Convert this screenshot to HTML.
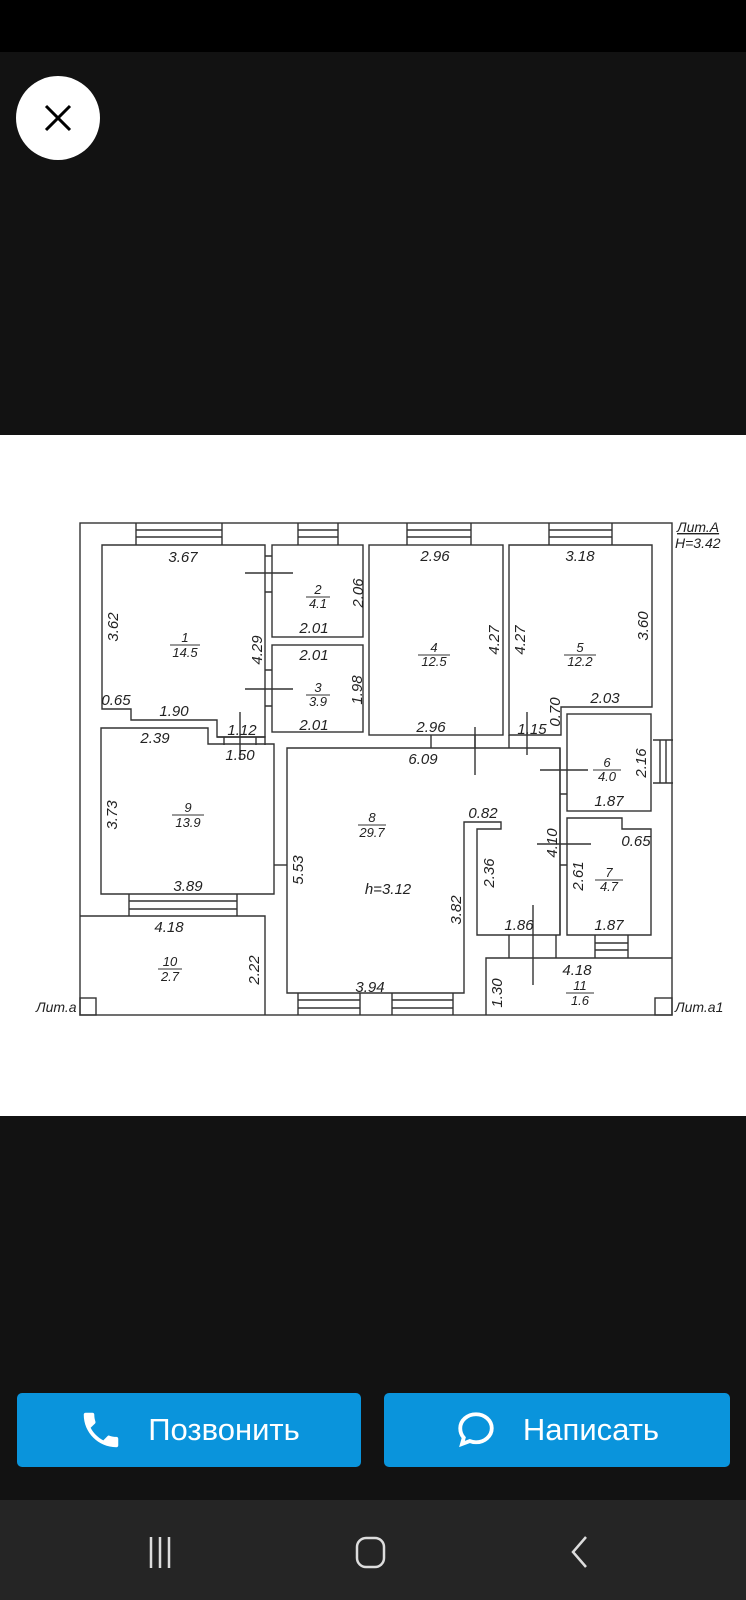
<!DOCTYPE html>
<html><head><meta charset="utf-8"><style>
html,body{margin:0;padding:0;background:#121212;width:746px;height:1600px;overflow:hidden;font-family:"Liberation Sans",sans-serif}
.btn{position:absolute;top:1393px;height:74px;background:#0a94dc;border-radius:5px;color:#fff;font-size:31px;display:flex;align-items:center;justify-content:center}
</style></head><body>
<div style="position:absolute;left:0;top:0;width:746px;height:52px;background:#000"></div>
<div style="position:absolute;left:16px;top:76px;width:84px;height:84px;border-radius:50%;background:#fff"></div>
<svg style="position:absolute;left:0;top:0" width="746" height="200"><path d="M46 106L70 130M70 106L46 130" stroke="#000" stroke-width="3"/></svg>
<div style="position:absolute;left:0;top:435px;width:746px;height:681px;background:#fff"></div>
<svg style="position:absolute;left:0;top:0" width="746" height="1120" font-family="Liberation Sans,sans-serif" font-style="italic" font-size="15" fill="#222">
<g fill="none" stroke="#333" stroke-width="1.4">
<rect x="80" y="523" width="592" height="492"/>
<path d="M102 545H265V737H217V720H131V709H102Z"/>
<rect x="272" y="545" width="91" height="92"/>
<rect x="272" y="645" width="91" height="87"/>
<rect x="369" y="545" width="134" height="190"/>
<path d="M509 545H652V707H561V735H509Z"/>
<rect x="567" y="714" width="84" height="97"/>
<path d="M567 818H622V829H651V935H567Z"/>
<path d="M101 728H208V744H274V894H101Z"/>
<path d="M287 748H560V935H477V829H501V822H464V993H287Z"/>
<path d="M80 916H265V1015"/>
<path d="M486 1015V958H672"/>
<path d="M274 865H287"/>
<path d="M136 523V545M222 523V545M136 530H222M136 537H222"/>
<path d="M298 523V545M338 523V545M298 530H338M298 537H338"/>
<path d="M407 523V545M471 523V545M407 530H471M407 537H471"/>
<path d="M549 523V545M612 523V545M549 530H612M549 537H612"/>
<path d="M129 894V916M237 894V916M129 901H237M129 909H237"/>
<path d="M298 993V1015M360 993V1015M298 1000H360M298 1008H360"/>
<path d="M392 993V1015M453 993V1015M392 1000H453M392 1008H453"/>
<path d="M595 935V958M628 935V958M595 943H628M595 950H628"/>
<path d="M509 935V958M556 935V958"/>
<path d="M653 740H673M653 783H673M660 740V783M666 740V783"/>
<rect x="80" y="998" width="16" height="17"/>
<rect x="655" y="998" width="17" height="17"/>
<path d="M245 573H293M245 689H293M265 556H272M265 592H272M265 670H272M265 706H272"/>
<path d="M540 770H588M537 844H591M533 905V985M475 727V775M240 712V760M527 712V755"/>
<path d="M217 737H265V745M224 737V745M256 737V745M431 735V748M475 735V748M509 735V748M560 748V935M567 794H560M567 865H560"/>
</g>
<g stroke="#333" stroke-width="1">
<path d="M306 597H330M306 695H330M170 645H200M418 655H450M564 655H596M172 815H204M158 969H182M593 770H621M595 880H623M566 993H594M358 825H386"/>
</g>
<g text-anchor="middle">
<text x="183" y="562">3.67</text><text x="318" y="594" font-size="13">2</text><text x="318" y="608" font-size="13">4.1</text>
<text x="314" y="633">2.01</text><text x="314" y="660">2.01</text>
<text x="318" y="692" font-size="13">3</text><text x="318" y="706" font-size="13">3.9</text><text x="314" y="730">2.01</text>
<text x="185" y="642" font-size="13">1</text><text x="185" y="657" font-size="13">14.5</text>
<text x="116" y="705">0.65</text><text x="174" y="716">1.90</text><text x="242" y="735">1.12</text><text x="155" y="743">2.39</text>
<text x="435" y="561">2.96</text><text x="434" y="652" font-size="13">4</text><text x="434" y="666" font-size="13">12.5</text>
<text x="580" y="561">3.18</text><text x="580" y="652" font-size="13">5</text><text x="580" y="666" font-size="13">12.2</text>
<text x="605" y="703">2.03</text><text x="532" y="734">1.15</text><text x="431" y="732">2.96</text>
<text x="240" y="760">1.50</text><text x="188" y="812" font-size="13">9</text><text x="188" y="827" font-size="13">13.9</text>
<text x="188" y="891">3.89</text><text x="169" y="932">4.18</text><text x="170" y="966" font-size="13">10</text><text x="170" y="981" font-size="13">2.7</text>
<text x="388" y="894">h=3.12</text><text x="423" y="764">6.09</text>
<text x="607" y="767" font-size="13">6</text><text x="607" y="781" font-size="13">4.0</text><text x="609" y="806">1.87</text>
<text x="372" y="822" font-size="13">8</text><text x="372" y="837" font-size="13">29.7</text>
<text x="483" y="818">0.82</text><text x="636" y="846">0.65</text>
<text x="609" y="877" font-size="13">7</text><text x="609" y="891" font-size="13">4.7</text>
<text x="519" y="930">1.86</text><text x="609" y="930">1.87</text><text x="577" y="975">4.18</text>
<text x="580" y="990" font-size="13">11</text><text x="580" y="1005" font-size="13">1.6</text><text x="370" y="992">3.94</text>
</g>
<g text-anchor="middle">
<text transform="translate(118,627) rotate(-90)">3.62</text>
<text transform="translate(262,650) rotate(-90)">4.29</text>
<text transform="translate(363,593) rotate(-90)">2.06</text>
<text transform="translate(362,690) rotate(-90)">1.98</text>
<text transform="translate(499,640) rotate(-90)">4.27</text>
<text transform="translate(525,640) rotate(-90)">4.27</text>
<text transform="translate(648,626) rotate(-90)">3.60</text>
<text transform="translate(560,712) rotate(-90)">0.70</text>
<text transform="translate(117,815) rotate(-90)">3.73</text>
<text transform="translate(303,870) rotate(-90)">5.53</text>
<text transform="translate(259,970) rotate(-90)">2.22</text>
<text transform="translate(646,763) rotate(-90)">2.16</text>
<text transform="translate(557,843) rotate(-90)">4.10</text>
<text transform="translate(494,873) rotate(-90)">2.36</text>
<text transform="translate(461,910) rotate(-90)">3.82</text>
<text transform="translate(583,876) rotate(-90)">2.61</text>
<text transform="translate(502,993) rotate(-90)">1.30</text>
</g>
<text x="677" y="532" font-size="14" text-decoration="underline">Лит.А</text>
<text x="675" y="548" font-size="14">Н=3.42</text>
<text x="36" y="1012" font-size="14">Лит.а</text>
<text x="675" y="1012" font-size="14">Лит.а1</text>
</svg>
<div class="btn" style="left:17px;width:344px"><svg width="46" height="46" viewBox="0 0 24 24" style="margin-right:24px"><path fill="#fff" d="M6.6 10.8c1.4 2.8 3.8 5.1 6.6 6.6l2.2-2.2c.3-.3.7-.4 1-.2 1.1.4 2.3.6 3.6.6.6 0 1 .4 1 1V20c0 .6-.4 1-1 1C10.6 21 3 13.4 3 4c0-.6.4-1 1-1h3.5c.6 0 1 .4 1 1 0 1.3.2 2.5.6 3.6.1.3 0 .7-.2 1z"/></svg>Позвонить</div>
<div class="btn" style="left:384px;width:346px"><svg width="42" height="42" viewBox="0 0 24 24" style="margin-right:26px"><path fill="none" stroke="#fff" stroke-width="2.2" d="M12 3c5 0 9 3.6 9 8s-4 8-9 8c-1.3 0-2.5-.2-3.6-.7L4 20l1-3.6C3.7 15 3 13.1 3 11c0-4.4 4-8 9-8z"/></svg>Написать</div>
<div style="position:absolute;left:0;top:1500px;width:746px;height:100px;background:#252525"></div>
<svg style="position:absolute;left:0;top:1500px" width="746" height="100">
<path d="M151 37V68M160 37V68M169 37V68" stroke="#ddd" stroke-width="2.5"/>
<rect x="357" y="38" width="27" height="29" rx="9" fill="none" stroke="#ddd" stroke-width="2.5"/>
<path d="M586 37L573 52L586 67" fill="none" stroke="#ddd" stroke-width="2.5"/>
</svg>
</body></html>
